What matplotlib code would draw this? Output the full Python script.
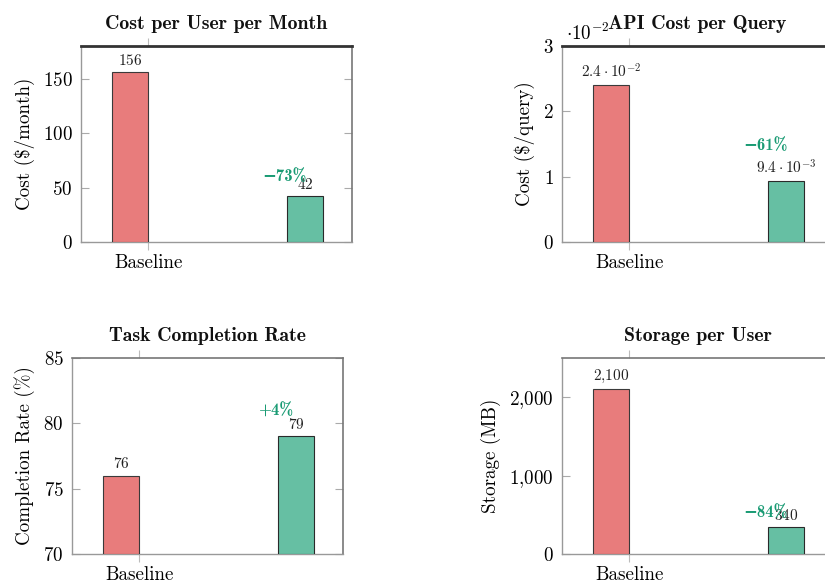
import matplotlib
matplotlib.use("Agg")
import math
import matplotlib.pyplot as plt
from matplotlib.ticker import FuncFormatter, FixedLocator

plt.rcParams['font.family'] = 'serif'
plt.rcParams['font.serif'] = ['cmr10']
plt.rcParams['mathtext.fontset'] = 'cm'
plt.rcParams['axes.formatter.use_mathtext'] = True
plt.rcParams['axes.unicode_minus'] = True

# ---- data ----
titles = ["Cost per User per Month", "API Cost per Query",
          "Task Completion Rate", "Storage per User"]
ylabels = ["Cost ($/month)", "Cost ($/query)", "Completion Rate (%)", "Storage (MB)"]
baseline_vals = [156, 0.024, 76, 2100]
optimized_vals = [42, 0.0094, 79, 340]
change_labels = ["\u221273%", "\u221261%", "+4%", "\u221284%"]
ylims = [(0, 180), (0, 0.03), (70, 85), (0, 2500)]
yticks = [[0, 50, 100, 150], [0, 0.01, 0.02, 0.03], [70, 75, 80, 85], [0, 1000, 2000]]
xtick_labels = ["Baseline"]

# ---- style ----
RED = "#E87C7C"
GREEN = "#66BFA3"
PCT = "#1A9B74"
W = 0.26
axes_pos = [(0.0982, 0.5849), (0.6812, 0.5849), (0.0873, 0.0497), (0.6812, 0.0497)]
AW, AH = 0.3285, 0.3362
pct_offsets_px = [20, 35, 25, 15]


def fmt_tick(i):
    def f(v, pos):
        if i == 1:
            return "$%g$" % round(v * 100, 6)
        if i == 3:
            s = "{:,}".format(int(round(v)))
            return "$" + s.replace(",", "{,}") + "$"
        return "$%g$" % v
    return f


def fmt_val(i, v):
    if i == 1:
        e = int(math.floor(math.log10(abs(v))))
        m = v / 10 ** e
        return r"$%g\cdot10^{%d}$" % (round(m, 1), e)
    if i == 3:
        return "$" + "{:,}".format(int(v)).replace(",", "{,}") + "$"
    return "$%g$" % v


fig = plt.figure(figsize=(8.25, 5.83), dpi=100)

for i in range(4):
    l, b = axes_pos[i]
    ax = fig.add_axes([l, b, AW, AH])
    ax.bar([0], [baseline_vals[i] - ylims[i][0]], bottom=ylims[i][0], width=-W, align='edge',
           color=RED, edgecolor='#3a3a3a', linewidth=0.8, zorder=3)
    ax.bar([1], [optimized_vals[i] - ylims[i][0]], bottom=ylims[i][0], width=W, align='edge',
           color=GREEN, edgecolor='#2a2a2a', linewidth=0.8, zorder=3)
    ax.set_xlim(-0.487, 1.47)
    ax.set_ylim(*ylims[i])
    ax.yaxis.set_major_locator(FixedLocator(yticks[i]))
    ax.yaxis.set_major_formatter(FuncFormatter(fmt_tick(i)))
    ax.set_xticks([0])
    ax.set_xticklabels(xtick_labels)
    ax.tick_params(axis='y', direction='in', left=True, right=True, length=6,
                   color='#aaaaaa', width=0.8, labelsize=13.7, pad=6)
    ax.tick_params(axis='x', direction='out', top=True, bottom=True, length=6,
                   color='#bbbbbb', width=0.8, labelsize=13.7, pad=3)
    for s in ['left', 'bottom']:
        ax.spines[s].set_color('#999999')
        ax.spines[s].set_linewidth(1.0)
    ax.spines['right'].set_color('#777777')
    ax.spines['right'].set_linewidth(1.2)
    if i < 2:
        ax.spines['top'].set_color('#333333')
        ax.spines['top'].set_linewidth(2.0)
    else:
        ax.spines['top'].set_color('#777777')
        ax.spines['top'].set_linewidth(1.2)
    ax.set_title(titles[i], fontfamily='cmb10', fontsize=14.3, pad=12, color='#111111')
    ax.set_ylabel(ylabels[i], fontsize=13.7, labelpad=6)

    # value labels
    ax.annotate(fmt_val(i, baseline_vals[i]), (-W / 2, baseline_vals[i]),
                xytext=(0, 3), textcoords='offset points', ha='center', va='bottom',
                fontsize=11, color='#222222', zorder=4)
    ax.annotate(fmt_val(i, optimized_vals[i]), (1 + W / 2, optimized_vals[i]),
                xytext=(0, 3), textcoords='offset points', ha='center', va='bottom',
                fontsize=11, color='#222222', zorder=4)
    ax.annotate(change_labels[i], (0.985, optimized_vals[i]),
                xytext=(0, pct_offsets_px[i] * 0.72), textcoords='offset points',
                ha='center', va='center', fontsize=12, color=PCT, zorder=5,
                family=['cmb10', 'DejaVu Sans'], fontweight='bold')
    if i == 1:
        ax.text(0.015, 1.01, r"$\cdot10^{-2}$", transform=ax.transAxes,
                ha='left', va='bottom', fontsize=13.7)

fig.savefig("out.png", dpi=100)
